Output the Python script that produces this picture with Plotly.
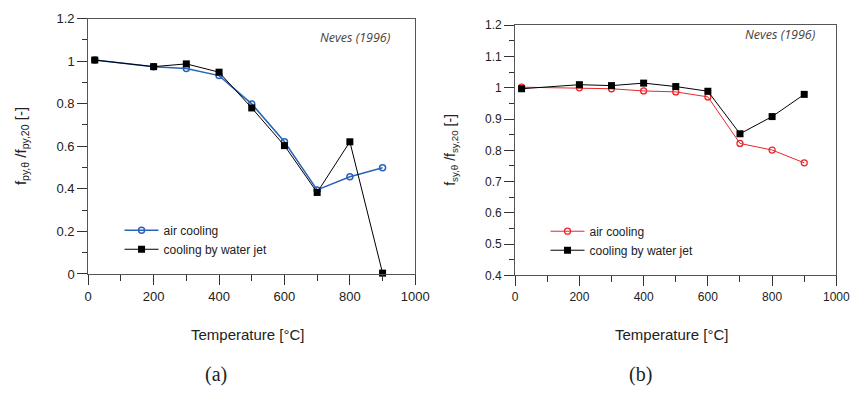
import plotly.graph_objects as go

# Temperatures of the tests [°C]
temp = [20, 200, 300, 400, 500, 600, 700, 800, 900]

# (a) relative yield strength f_py,θ / f_py,20
py_air = [1.005, 0.974, 0.965, 0.932, 0.799, 0.621, 0.395, 0.457, 0.499]
py_water = [1.005, 0.974, 0.987, 0.948, 0.780, 0.603, 0.383, 0.621, 0.004]

# (b) relative yield strength f_sy,θ / f_sy,20
sy_air = [1.002, 1.000, 0.997, 0.990, 0.987, 0.971, 0.822, 0.801, 0.760]
sy_water = [0.997, 1.010, 1.007, 1.015, 1.004, 0.989, 0.853, 0.908, 0.979]

series_names = ["air cooling", "cooling by water jet"]
x_ticks = [0, 200, 400, 600, 800, 1000]

W, H = 867, 395
FONT = "Liberation Sans, Arial, sans-serif"


def px(x):
    return x / W


def py(y):
    return 1 - y / H


fig = go.Figure()

# panel (a)
fig.add_trace(go.Scatter(
    x=temp, y=py_air, name=series_names[0], mode="lines+markers",
    line=dict(color="#2b63b6", width=1.5),
    marker=dict(symbol="circle-open", size=6, color="#2b63b6", line=dict(width=1.5)),
    xaxis="x", yaxis="y", legend="legend", cliponaxis=False))
fig.add_trace(go.Scatter(
    x=temp, y=py_water, name=series_names[1], mode="lines+markers",
    line=dict(color="#000000", width=1),
    marker=dict(symbol="square", size=7, color="#000000"),
    xaxis="x", yaxis="y", legend="legend", cliponaxis=False))

# panel (b)
fig.add_trace(go.Scatter(
    x=temp, y=sy_air, name=series_names[0], mode="lines+markers",
    line=dict(color="#e8262b", width=1),
    marker=dict(symbol="circle-open", size=6, color="#e8262b", line=dict(width=1.3)),
    xaxis="x2", yaxis="y2", legend="legend2", cliponaxis=False))
fig.add_trace(go.Scatter(
    x=temp, y=sy_water, name=series_names[1], mode="lines+markers",
    line=dict(color="#000000", width=1),
    marker=dict(symbol="square", size=7, color="#000000"),
    xaxis="x2", yaxis="y2", legend="legend2", cliponaxis=False))

axis_common = dict(
    showgrid=False, zeroline=False, showline=True, linecolor="#555555",
    linewidth=1, mirror=True, ticks="outside", ticklen=10, tickwidth=1,
    tickcolor="#333333", color="#222222",
)

fig.update_layout(
    width=W, height=H,
    margin=dict(l=0, r=0, t=0, b=0),
    paper_bgcolor="white", plot_bgcolor="white",
    font=dict(family=FONT, color="#222222"),
    xaxis=dict(**axis_common, domain=[px(86), px(420)], range=[0, 1000],
               tickvals=x_ticks, tickfont=dict(size=13), anchor="y",
               minor=dict(dtick=100, ticks="outside", ticklen=6, tickcolor="#333333")),
    yaxis=dict(**axis_common, domain=[py(277.5), py(12)], range=[0, 1.2],
               dtick=0.2, tick0=0, tickfont=dict(size=13), anchor="x",
               minor=dict(dtick=0.1, ticks="outside", ticklen=5, tickcolor="#333333")),
    xaxis2=dict(**axis_common, domain=[px(522), px(850)], range=[0, 1000],
                tickvals=x_ticks, tickfont=dict(size=12), anchor="y2",
                minor=dict(dtick=100, ticks="outside", ticklen=6, tickcolor="#333333")),
    yaxis2=dict(**axis_common, domain=[py(279), py(19)], range=[0.4, 1.2],
                dtick=0.1, tick0=0.4, tickfont=dict(size=12), anchor="x2",
                minor=dict(dtick=0.05, ticks="outside", ticklen=5, tickcolor="#333333")),
    legend=dict(x=px(118), y=py(217), xanchor="left", yanchor="top",
                bgcolor="rgba(0,0,0,0)", font=dict(size=12, color="#222222"),
                itemwidth=34, tracegroupgap=0),
    legend2=dict(x=px(553), y=py(218), xanchor="left", yanchor="top",
                 bgcolor="rgba(0,0,0,0)", font=dict(size=12, color="#222222"),
                 itemwidth=34, tracegroupgap=0),
    showlegend=True,
)

annotations = [
    # axis titles
    dict(x=px(18), y=py(145), text="f<sub>py,θ</sub> /f<sub>py,20</sub> [-]",
         textangle=-90, font=dict(size=15)),
    dict(x=px(457), y=py(149), text="f<sub>sy,θ</sub> /f<sub>sy,20</sub> [-]",
         textangle=-90, font=dict(size=14)),
    dict(x=px(249), y=py(340), text="Temperature [°C]", font=dict(size=15)),
    dict(x=px(682), y=py(340), text="Temperature [°C]", font=dict(size=15)),
    # panel labels
    dict(x=px(217), y=py(382), text="(a)",
         font=dict(size=20, family="Liberation Serif, Times New Roman, serif")),
    dict(x=px(650), y=py(382), text="(b)",
         font=dict(size=20, family="Liberation Serif, Times New Roman, serif")),
]
for a in annotations:
    a.update(xanchor="center", yanchor="middle")

# source notes, right-aligned inside each panel
annotations += [
    dict(x=px(397), y=py(32), text="<i>Neves (1996)</i>", xanchor="right", yanchor="middle",
         font=dict(size=12.5, color="#444444", family="Open Sans, sans-serif")),
    dict(x=px(831), y=py(29), text="<i>Neves (1996)</i>", xanchor="right", yanchor="middle",
         font=dict(size=12.5, color="#444444", family="Open Sans, sans-serif")),
]
for a in annotations:
    a.update(xref="paper", yref="paper", showarrow=False)
fig.update_layout(annotations=annotations)

fig.write_html("out.html")
